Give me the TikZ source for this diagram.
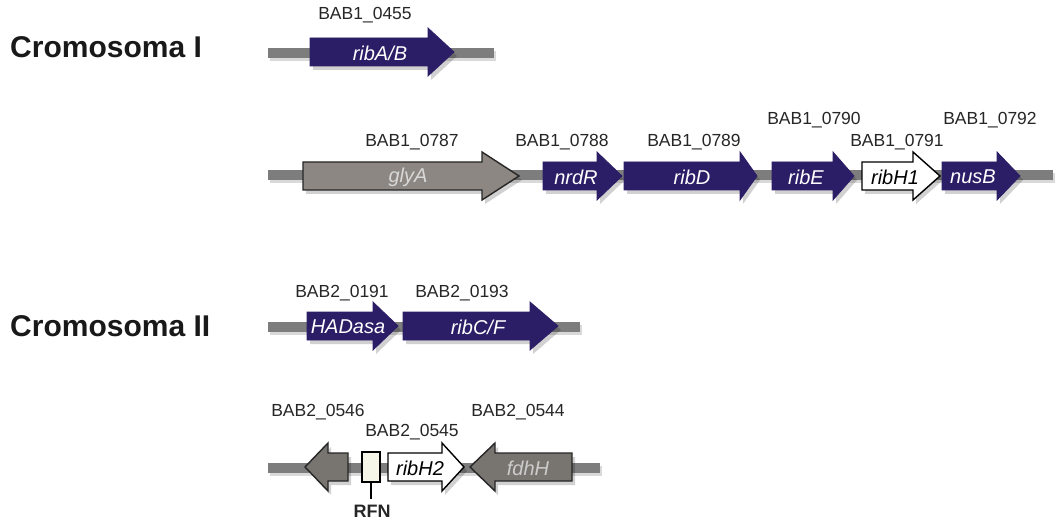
\documentclass[tikz,border=0pt]{standalone}
\usepackage{fontspec}
\setmainfont{Liberation Sans}
\definecolor{geneblue}{RGB}{44,30,102}
\definecolor{genegray}{RGB}{140,135,130}
\definecolor{genegrayB}{RGB}{120,116,112}
\definecolor{bbgray}{RGB}{125,125,125}
\definecolor{rfnfill}{RGB}{245,245,232}
\tikzset{
  backbone/.style={bbgray, line width=10pt},
  bluegene/.style={fill=geneblue, draw=geneblue, line width=0.8pt},
  graygene/.style={fill=genegray, draw=black!85, line width=1.4pt},
  graygeneB/.style={fill=genegrayB, draw=black!85, line width=1.4pt},
  whitegene/.style={fill=white, draw=black, line width=1.4pt},
  shadowst/.style={fill=black, opacity=0.18},
  locus/.style={font=\fontsize{17.5}{17.5}\selectfont, text=black!85, inner sep=0pt},
  gname/.style={font=\fontsize{20}{20}\selectfont\itshape, text=white, inner sep=0pt},
  chrom/.style={font=\fontsize{30}{30}\selectfont\bfseries, text=black!90, inner sep=0pt, anchor=west},
}
% #1 start x, #2 head start x, #3 tip x, #4 centre y, #5 style
\newcommand\genearrow[5]{%
  \begin{scope}[shift={(3,4)}]
    \path[shadowst] (#1,#4-14) -- (#2,#4-14) -- (#2,#4-24) -- (#3,#4) -- (#2,#4+24) -- (#2,#4+14) -- (#1,#4+14) -- cycle;
  \end{scope}
  \path[#5, line join=miter] (#1,#4-14) -- (#2,#4-14) -- (#2,#4-24) -- (#3,#4) -- (#2,#4+24) -- (#2,#4+14) -- (#1,#4+14) -- cycle;
}
\begin{document}
\begin{tikzpicture}[x=1pt, y=-1pt]
\useasboundingbox (0,0) rectangle (1057,521);

% chromosome titles
\node[chrom] (c1) at (10,47) {Cromosoma I};
\node[chrom] (c2) at (10,326) {Cromosoma II};

% backbones
\coordinate (b1a) at (268,53); \coordinate (b1b) at (494,53);
\coordinate (b2a) at (268,175); \coordinate (b2b) at (1053,175);
\coordinate (b3a) at (268,327); \coordinate (b3b) at (580,327);
\coordinate (b4a) at (268,468); \coordinate (b4b) at (600,468);
\draw[black, opacity=0.15, line width=10pt] ([shift={(2,3)}]b1a) -- ([shift={(2,3)}]b1b);
\draw[black, opacity=0.15, line width=10pt] ([shift={(2,3)}]b2a) -- ([shift={(2,3)}]b2b);
\draw[black, opacity=0.15, line width=10pt] ([shift={(2,3)}]b3a) -- ([shift={(2,3)}]b3b);
\draw[black, opacity=0.15, line width=10pt] ([shift={(2,3)}]b4a) -- ([shift={(2,3)}]b4b);
\draw[backbone] (b1a) -- (b1b);
\draw[backbone] (b2a) -- (b2b);
\draw[backbone] (b3a) -- (b3b);
\draw[backbone] (b4a) -- (b4b);

% Row 1
\genearrow{310}{428}{454}{52}{bluegene}
\node[gname] (ribAB) at (380,53) {ribA/B};
\node[locus] (l0455) at (365,15) {BAB1\_0455};

% Row 2
\genearrow{303}{482}{519}{176}{graygene}
\node[gname, text=black!15] (glyA) at (408,177) {glyA};
\genearrow{543}{597}{622}{176}{bluegene}
\node[gname] (nrdR) at (576,177) {nrdR};
\genearrow{624}{740}{757}{176}{bluegene}
\node[gname] (ribD) at (692,177) {ribD};
\genearrow{772}{833}{854}{176}{bluegene}
\node[gname] (ribE) at (806,177) {ribE};
\genearrow{862}{913}{940}{176}{whitegene}
\node[gname, text=black] (ribH1) at (895,177) {ribH1};
\genearrow{942}{997}{1020}{176}{bluegene}
\node[gname] (nusB) at (973,177) {nusB};
\node[locus] (l0787) at (412,142) {BAB1\_0787};
\node[locus] (l0788) at (562,142) {BAB1\_0788};
\node[locus] (l0789) at (694,142) {BAB1\_0789};
\node[locus] (l0790) at (814,120) {BAB1\_0790};
\node[locus] (l0791) at (897,142) {BAB1\_0791};
\node[locus] (l0792) at (990,120) {BAB1\_0792};

% Row 3
\genearrow{307}{373}{398}{326}{bluegene}
\node[gname] (HADasa) at (348,327) {HADasa};
\genearrow{403}{530}{558}{326}{bluegene}
\node[gname] (ribCF) at (478,327) {ribC/F};
\node[locus] (l0191) at (342,293) {BAB2\_0191};
\node[locus] (l0193) at (462,293) {BAB2\_0193};

% Row 4
\genearrow{348}{328}{305}{467}{graygeneB}
\genearrow{388}{442}{464}{467}{whitegene}
\node[gname, text=black] (ribH2) at (420,468) {ribH2};
\genearrow{572}{495}{470}{467}{graygeneB}
\node[gname, text=black!20] (fdhH) at (528,468) {fdhH};
\node[draw=black, line width=1.4pt, fill=rfnfill, minimum width=18pt, minimum height=30pt, inner sep=0pt] (rfnbox) at (371,467) {};
\node[font=\fontsize{18}{18}\selectfont\bfseries, text=black!85, inner sep=0pt] (rfn) at (372,511) {RFN};
\draw[black, line width=1.4pt] (rfnbox.south) -- (rfnbox.south |- 0,499);
\node[locus] (l0546) at (318,412) {BAB2\_0546};
\node[locus] (l0545) at (412,432) {BAB2\_0545};
\node[locus] (l0544) at (518,412) {BAB2\_0544};
\end{tikzpicture}
\end{document}
